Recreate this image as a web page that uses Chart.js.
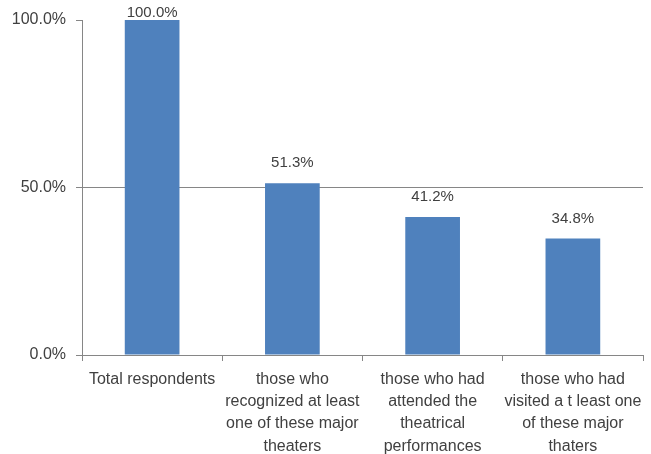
<!DOCTYPE html>
<html>
<head>
<meta charset="utf-8">
<script src="https://cdn.jsdelivr.net/npm/chart.js@4/dist/chart.umd.min.js"></script>
<style>
  html, body { margin: 0; padding: 0; background: #fff; }
  #c { display: block; }
</style>
</head>
<body>
<canvas id="c" width="651" height="454"></canvas>
<script>
// Share of respondents by level of engagement with the major theaters
const categories = [
  ["Total respondents"],
  ["those who", "recognized at least", "one of these major", "theaters"],
  ["those who had", "attended the", "theatrical", "performances"],
  ["those who had", "visited a t least one", "of these major", "thaters"]
];
const shares = [100.0, 51.3, 41.2, 34.8];
const yTicks = [0, 50, 100];

const FONT = "'Liberation Sans Narrow', 'Arial Narrow', 'Liberation Sans', sans-serif";
const TEXT = "#404040";
const LINE = "#868686";

// Percentage labels above each bar, kept inside the canvas at the top
const valueLabels = {
  id: 'valueLabels',
  afterDatasetsDraw(chart) {
    const ctx = chart.ctx;
    const meta = chart.getDatasetMeta(0);
    ctx.save();
    ctx.font = "15px " + FONT;
    ctx.fillStyle = TEXT;
    ctx.textAlign = 'center';
    ctx.textBaseline = 'middle';
    meta.data.forEach((bar, i) => {
      const y = Math.max(bar.y - 20, 13);
      ctx.fillText(shares[i].toFixed(1) + '%', bar.x, y);
    });
    ctx.restore();
  }
};

new Chart(document.getElementById('c'), {
  type: 'bar',
  data: {
    labels: categories,
    datasets: [{
      data: shares,
      backgroundColor: '#4F81BD',
      borderWidth: 0,
      categoryPercentage: 1.0,
      barPercentage: 0.39
    }]
  },
  options: {
    responsive: false,
    animation: false,
    devicePixelRatio: 1,
    layout: { padding: { left: 0, right: 8, top: 20, bottom: 0 } },
    plugins: { legend: { display: false }, tooltip: { enabled: false } },
    scales: {
      x: {
        grid: {
          display: true,
          drawOnChartArea: false,
          drawTicks: true,
          tickLength: 6,
          color: LINE,
          offset: true
        },
        border: { display: true, color: LINE, width: 1 },
        ticks: {
          color: TEXT,
          font: { family: FONT, size: 16, lineHeight: 1.4 },
          maxRotation: 0,
          autoSkip: false,
          padding: 7
        },
        afterFit(scale) { scale.height = 99; }
      },
      y: {
        min: 0,
        max: 100,
        afterBuildTicks(scale) { scale.ticks = yTicks.map(v => ({ value: v })); },
        grid: {
          color: (c) => (c.tick && c.tick.value === 50) ? LINE : 'rgba(0,0,0,0)',
          tickColor: LINE,
          tickLength: 6,
          drawTicks: true
        },
        border: { display: true, color: LINE, width: 1 },
        ticks: {
          color: TEXT,
          font: { family: FONT, size: 16 },
          padding: 10,
          callback: (v) => Number(v).toFixed(1) + '%'
        },
        afterFit(scale) { scale.width = 82; }
      }
    }
  },
  plugins: [valueLabels]
});
</script>
</body>
</html>
